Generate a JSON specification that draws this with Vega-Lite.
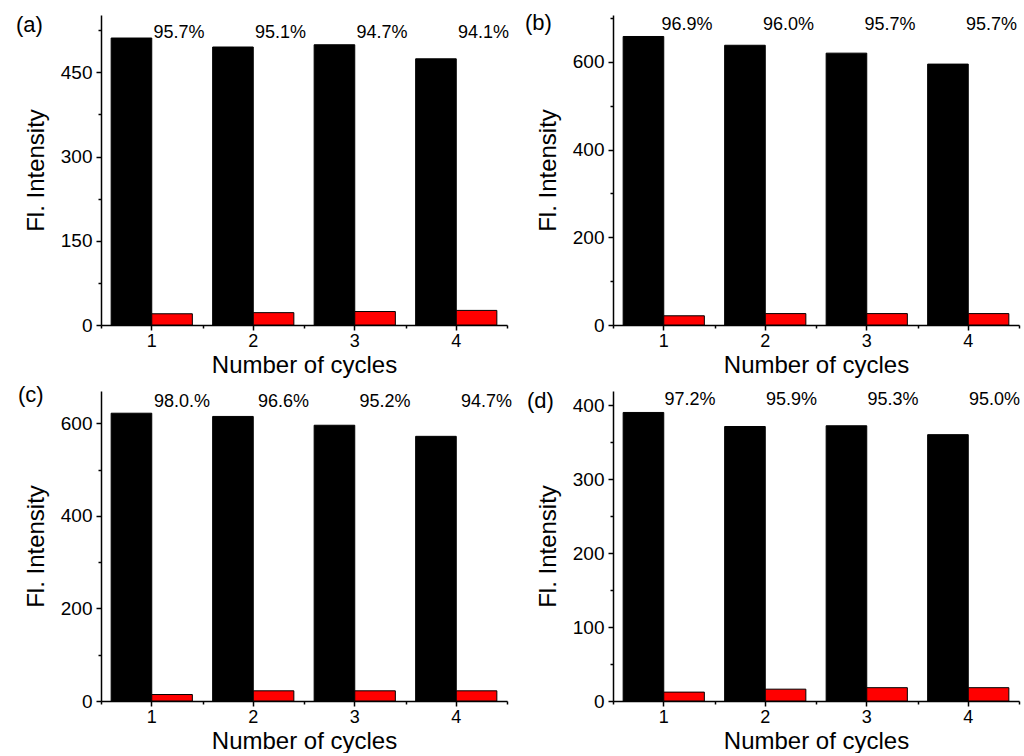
{
  "$schema": "https://vega.github.io/schema/vega-lite/v6.json",
  "background": "white",
  "padding": {"left": 16, "top": 12, "right": 0, "bottom": 0},
  "config": {
    "font": "Liberation Sans",
    "view": {"stroke": null},
    "axis": {"domainColor": "#000", "tickColor": "#000", "labelColor": "#000", "titleColor": "#000", "labelFont": "Liberation Sans", "titleFont": "Liberation Sans", "labelFontSize": 19, "titleFontSize": 24, "titleFontWeight": "normal", "tickSize": 5, "domainWidth": 1.5, "tickWidth": 1.5, "grid": false},
    "axisX": {"labelAngle": 0, "labelPadding": 2, "labelFontSize": 18, "titlePadding": 3},
    "axisY": {"labelPadding": 4, "titlePadding": 12},
    "title": {"fontSize": 22, "fontWeight": "normal", "font": "Liberation Sans", "color": "#000", "anchor": "start", "frame": "group", "baseline": "alphabetic"},
    "text": {"font": "Liberation Sans", "fontSize": 18, "color": "#000"}
  },
  "datasets": {
    "cycles": [
      {"panel": "a", "cycle": 1, "series": "initial", "value": 511},
      {"panel": "a", "cycle": 1, "series": "quenched", "value": 20, "pct": "95.7%"},
      {"panel": "a", "cycle": 2, "series": "initial", "value": 495},
      {"panel": "a", "cycle": 2, "series": "quenched", "value": 22, "pct": "95.1%"},
      {"panel": "a", "cycle": 3, "series": "initial", "value": 499},
      {"panel": "a", "cycle": 3, "series": "quenched", "value": 24, "pct": "94.7%"},
      {"panel": "a", "cycle": 4, "series": "initial", "value": 474},
      {"panel": "a", "cycle": 4, "series": "quenched", "value": 26, "pct": "94.1%"},
      {"panel": "b", "cycle": 1, "series": "initial", "value": 658},
      {"panel": "b", "cycle": 1, "series": "quenched", "value": 21, "pct": "96.9%"},
      {"panel": "b", "cycle": 2, "series": "initial", "value": 638},
      {"panel": "b", "cycle": 2, "series": "quenched", "value": 26, "pct": "96.0%"},
      {"panel": "b", "cycle": 3, "series": "initial", "value": 620},
      {"panel": "b", "cycle": 3, "series": "quenched", "value": 26, "pct": "95.7%"},
      {"panel": "b", "cycle": 4, "series": "initial", "value": 595},
      {"panel": "b", "cycle": 4, "series": "quenched", "value": 26, "pct": "95.7%"},
      {"panel": "c", "cycle": 1, "series": "initial", "value": 622},
      {"panel": "c", "cycle": 1, "series": "quenched", "value": 14, "pct": "98.0.%"},
      {"panel": "c", "cycle": 2, "series": "initial", "value": 615},
      {"panel": "c", "cycle": 2, "series": "quenched", "value": 22, "pct": "96.6%"},
      {"panel": "c", "cycle": 3, "series": "initial", "value": 596},
      {"panel": "c", "cycle": 3, "series": "quenched", "value": 22, "pct": "95.2%"},
      {"panel": "c", "cycle": 4, "series": "initial", "value": 572},
      {"panel": "c", "cycle": 4, "series": "quenched", "value": 22, "pct": "94.7%"},
      {"panel": "d", "cycle": 1, "series": "initial", "value": 390},
      {"panel": "d", "cycle": 1, "series": "quenched", "value": 12, "pct": "97.2%"},
      {"panel": "d", "cycle": 2, "series": "initial", "value": 371},
      {"panel": "d", "cycle": 2, "series": "quenched", "value": 16, "pct": "95.9%"},
      {"panel": "d", "cycle": 3, "series": "initial", "value": 372},
      {"panel": "d", "cycle": 3, "series": "quenched", "value": 18, "pct": "95.3%"},
      {"panel": "d", "cycle": 4, "series": "initial", "value": 360},
      {"panel": "d", "cycle": 4, "series": "quenched", "value": 18, "pct": "95.0%"}
    ]
  },
  "data": {"name": "cycles"},
  "columns": 2,
  "spacing": {"row": 7, "column": 12},
  "concat": [
    {
      "width": 406, "height": 310,
      "title": {"text": "(a)", "dx": -85, "offset": -22},
      "transform": [{"filter": "datum.panel === 'a'"}],
      "layer": [
        {"mark": {"type": "bar", "stroke": "#000", "strokeWidth": 1},
         "encoding": {
           "x": {"field": "cycle", "type": "ordinal", "scale": {"paddingInner": 0, "paddingOuter": 0}, "axis": {"title": "Number of cycles"}},
           "xOffset": {"field": "series", "type": "nominal", "scale": {"domain": ["initial", "quenched"], "paddingInner": 0, "paddingOuter": 0.25}},
           "y": {"field": "value", "type": "quantitative", "scale": {"domain": [0, 552], "nice": false}, "axis": {"values": [0, 150, 300, 450], "title": "Fl. Intensity"}},
           "color": {"field": "series", "type": "nominal", "scale": {"domain": ["initial", "quenched"], "range": ["#000000", "#ff0000"]}, "legend": null}
         }},
        {"transform": [{"filter": "datum.series === 'quenched'"}],
         "mark": {"type": "text", "dx": 7, "baseline": "middle"},
         "encoding": {
           "x": {"field": "cycle", "type": "ordinal", "axis": null},
           "xOffset": {"field": "series", "type": "nominal"},
           "y": {"datum": 520, "type": "quantitative", "axis": null},
           "text": {"field": "pct"}
         }},
        {"mark": {"type": "point", "opacity": 0},
         "encoding": {
           "x": {"field": "cycle", "type": "ordinal", "axis": {"orient": "bottom", "tickBand": "extent", "labels": false, "domain": false, "title": null, "tickSize": 3}},
           "y": {"field": "value", "type": "quantitative", "axis": {"orient": "left", "values": [75, 225, 375, 525], "labels": false, "domain": false, "title": null, "tickSize": 3}}
         }}
      ],
      "resolve": {"axis": {"x": "independent", "y": "independent"}}
    },
    {
      "width": 406, "height": 310,
      "title": {"text": "(b)", "dx": -88, "offset": -20},
      "transform": [{"filter": "datum.panel === 'b'"}],
      "layer": [
        {"mark": {"type": "bar", "stroke": "#000", "strokeWidth": 1},
         "encoding": {
           "x": {"field": "cycle", "type": "ordinal", "scale": {"paddingInner": 0, "paddingOuter": 0}, "axis": {"title": "Number of cycles"}},
           "xOffset": {"field": "series", "type": "nominal", "scale": {"domain": ["initial", "quenched"], "paddingInner": 0, "paddingOuter": 0.25}},
           "y": {"field": "value", "type": "quantitative", "scale": {"domain": [0, 707], "nice": false}, "axis": {"values": [0, 200, 400, 600], "title": "Fl. Intensity"}},
           "color": {"field": "series", "type": "nominal", "scale": {"domain": ["initial", "quenched"], "range": ["#000000", "#ff0000"]}, "legend": null}
         }},
        {"transform": [{"filter": "datum.series === 'quenched'"}],
         "mark": {"type": "text", "dx": 3, "baseline": "middle"},
         "encoding": {
           "x": {"field": "cycle", "type": "ordinal", "axis": null},
           "xOffset": {"field": "series", "type": "nominal"},
           "y": {"datum": 684, "type": "quantitative", "axis": null},
           "text": {"field": "pct"}
         }},
        {"mark": {"type": "point", "opacity": 0},
         "encoding": {
           "x": {"field": "cycle", "type": "ordinal", "axis": {"orient": "bottom", "tickBand": "extent", "labels": false, "domain": false, "title": null, "tickSize": 3}},
           "y": {"field": "value", "type": "quantitative", "axis": {"orient": "left", "values": [100, 300, 500, 700], "labels": false, "domain": false, "title": null, "tickSize": 3}}
         }}
      ],
      "resolve": {"axis": {"x": "independent", "y": "independent"}}
    },
    {
      "width": 406, "height": 310,
      "title": {"text": "(c)", "dx": -83, "offset": -16},
      "transform": [{"filter": "datum.panel === 'c'"}],
      "layer": [
        {"mark": {"type": "bar", "stroke": "#000", "strokeWidth": 1},
         "encoding": {
           "x": {"field": "cycle", "type": "ordinal", "scale": {"paddingInner": 0, "paddingOuter": 0}, "axis": {"title": "Number of cycles"}},
           "xOffset": {"field": "series", "type": "nominal", "scale": {"domain": ["initial", "quenched"], "paddingInner": 0, "paddingOuter": 0.25}},
           "y": {"field": "value", "type": "quantitative", "scale": {"domain": [0, 670], "nice": false}, "axis": {"values": [0, 200, 400, 600], "title": "Fl. Intensity"}},
           "color": {"field": "series", "type": "nominal", "scale": {"domain": ["initial", "quenched"], "range": ["#000000", "#ff0000"]}, "legend": null}
         }},
        {"transform": [{"filter": "datum.series === 'quenched'"}],
         "mark": {"type": "text", "dx": 10, "baseline": "middle"},
         "encoding": {
           "x": {"field": "cycle", "type": "ordinal", "axis": null},
           "xOffset": {"field": "series", "type": "nominal"},
           "y": {"datum": 646, "type": "quantitative", "axis": null},
           "text": {"field": "pct"}
         }},
        {"mark": {"type": "point", "opacity": 0},
         "encoding": {
           "x": {"field": "cycle", "type": "ordinal", "axis": {"orient": "bottom", "tickBand": "extent", "labels": false, "domain": false, "title": null, "tickSize": 3}},
           "y": {"field": "value", "type": "quantitative", "axis": {"orient": "left", "values": [100, 300, 500], "labels": false, "domain": false, "title": null, "tickSize": 3}}
         }}
      ],
      "resolve": {"axis": {"x": "independent", "y": "independent"}}
    },
    {
      "width": 406, "height": 310,
      "title": {"text": "(d)", "dx": -86, "offset": -22},
      "transform": [{"filter": "datum.panel === 'd'"}],
      "layer": [
        {"mark": {"type": "bar", "stroke": "#000", "strokeWidth": 1},
         "encoding": {
           "x": {"field": "cycle", "type": "ordinal", "scale": {"paddingInner": 0, "paddingOuter": 0}, "axis": {"title": "Number of cycles"}},
           "xOffset": {"field": "series", "type": "nominal", "scale": {"domain": ["initial", "quenched"], "paddingInner": 0, "paddingOuter": 0.25}},
           "y": {"field": "value", "type": "quantitative", "scale": {"domain": [0, 419], "nice": false}, "axis": {"values": [0, 100, 200, 300, 400], "title": "Fl. Intensity"}},
           "color": {"field": "series", "type": "nominal", "scale": {"domain": ["initial", "quenched"], "range": ["#000000", "#ff0000"]}, "legend": null}
         }},
        {"transform": [{"filter": "datum.series === 'quenched'"}],
         "mark": {"type": "text", "dx": 6, "baseline": "middle"},
         "encoding": {
           "x": {"field": "cycle", "type": "ordinal", "axis": null},
           "xOffset": {"field": "series", "type": "nominal"},
           "y": {"datum": 407, "type": "quantitative", "axis": null},
           "text": {"field": "pct"}
         }},
        {"mark": {"type": "point", "opacity": 0},
         "encoding": {
           "x": {"field": "cycle", "type": "ordinal", "axis": {"orient": "bottom", "tickBand": "extent", "labels": false, "domain": false, "title": null, "tickSize": 3}},
           "y": {"field": "value", "type": "quantitative", "axis": {"orient": "left", "values": [50, 150, 250, 350], "labels": false, "domain": false, "title": null, "tickSize": 3}}
         }}
      ],
      "resolve": {"axis": {"x": "independent", "y": "independent"}}
    }
  ]
}
